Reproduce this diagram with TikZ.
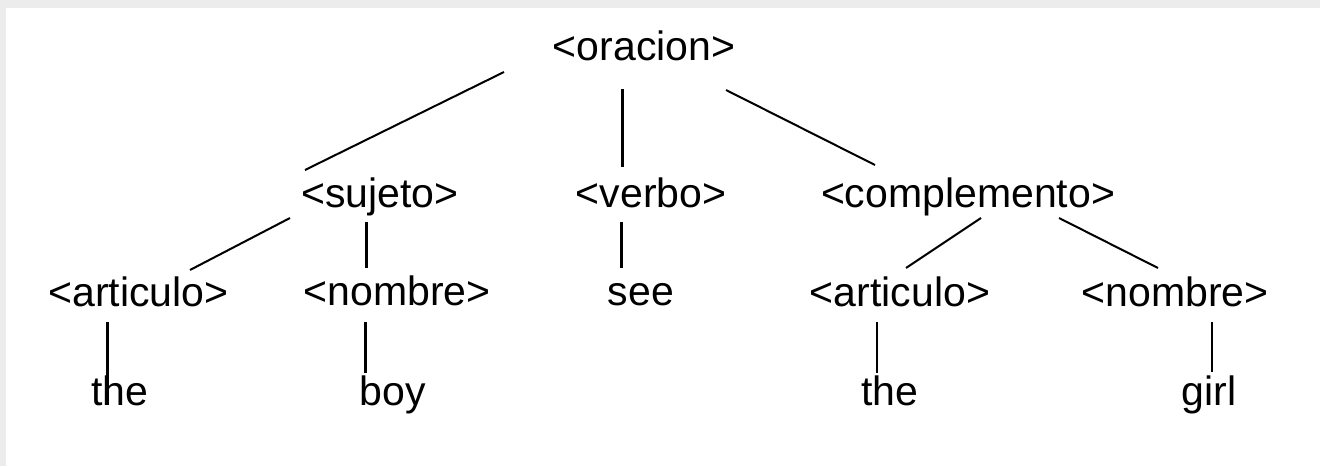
\documentclass[tikz,border=0pt]{standalone}
\usepackage{fontspec}
\setmainfont{Liberation Sans}
\usetikzlibrary{calc}
\definecolor{framegray}{RGB}{236,236,236}
\tikzset{
  word/.style={anchor=base, inner sep=0pt, font=\fontsize{41}{41}\selectfont, text=black},
  branch/.style={draw=black, line width=2pt},
  stem/.style={draw=black, line width=3pt},
  thinstem/.style={draw=black, line width=2pt}
}
\begin{document}
\begin{tikzpicture}[x=1pt, y=-1pt]
  \useasboundingbox (0,0) rectangle (1320,466);
  \fill[framegray] (0,0) rectangle (1320,466);
  \fill[white] (6,8) rectangle (1324,470);

  % nodes
  \node[word] (orac) at (644,60) {<oracion>};
  \node[word] (suj)  at (380,207) {<sujeto>};
  \node[word] (verb) at (651,207) {<verbo>};
  \node[word] (comp) at (968,207) {<complemento>};
  \node[word] (artA) at (138.5,306) {<articulo>};
  \node[word] (nomA) at (397,305) {<nombre>};
  \node[word] (see)  at (641,305) {see};
  \node[word] (artB) at (900,306) {<articulo>};
  \node[word] (nomB) at (1175,306) {<nombre>};
  \node[word] (theA) at (119.5,405) {the};
  \node[word] (boy)  at (392.5,405) {boy};
  \node[word] (theB) at (890,405) {the};
  \node[word] (girl) at (1209,405) {girl};

  % connectors
  \draw[branch] ($(orac.base)+(-140,12)$) -- ($(suj.base)+(-75,-37)$);
  \draw[stem]   ($(orac.base)+(-22,29)$) -- ($(verb.base)+(-29,-40)$);
  \draw[branch] ($(orac.base)+(82,30)$) -- ($(comp.base)+(-93,-42)$);
  \draw[branch] ($(suj.base)+(-90,11)$) -- ($(artA.base)+(51.5,-36)$);
  \draw[stem]   ($(suj.base)+(-14,15)$) -- ($(nomA.base)+(-31,-37)$);
  \draw[stem]   ($(verb.base)+(-30,15)$) -- ($(see.base)+(-20,-37)$);
  \draw[branch] ($(comp.base)+(13,11)$) -- ($(artB.base)+(6,-38)$);
  \draw[branch] ($(comp.base)+(91,11)$) -- ($(nomB.base)+(-17,-38)$);
  \draw[stem]   ($(artA.base)+(-31.5,16)$) -- ($(theA.base)+(-12.5,0)$);
  \draw[stem]   ($(nomA.base)+(-32,17)$) -- ($(boy.base)+(-27.5,-32)$);
  \draw[thinstem] ($(artB.base)+(-23,16)$) -- ($(theB.base)+(-13,-32)$);
  \draw[thinstem] ($(nomB.base)+(37,16)$) -- ($(girl.base)+(3,-33)$);
\end{tikzpicture}
\end{document}
